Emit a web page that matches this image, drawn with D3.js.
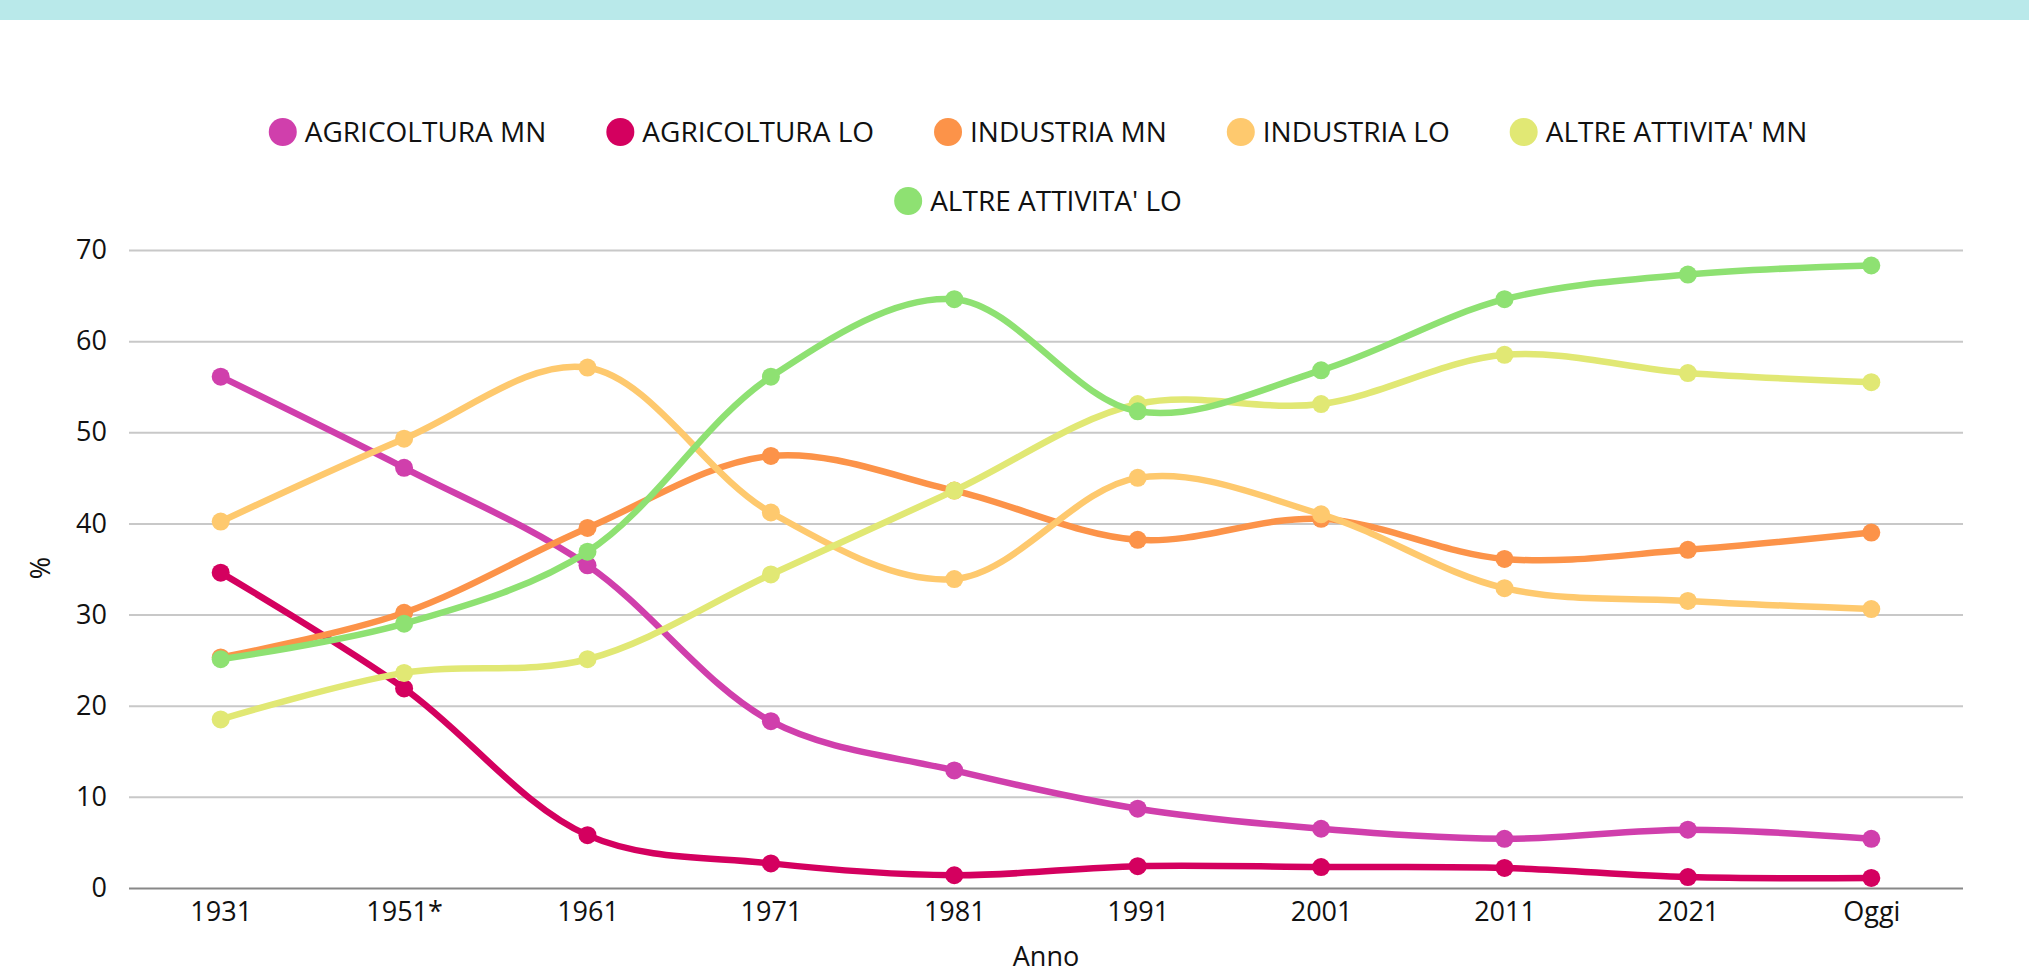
<!DOCTYPE html>
<html>
<head>
<meta charset="utf-8">
<title>Occupazione per settore</title>
<script src="https://d3js.org/d3.v7.min.js"></script>
<style>
  body { margin: 0; background: #fff; font-family: 'Open Sans', sans-serif; }
  .band { height: 20px; background: #b9e9ea; }
  svg { display: block; position: absolute; top: 0; left: 0; }
</style>
</head>
<body>
<div class="band"></div>
<div id="chart"></div>
<script>
// categories and series (% of workers)
var anni = ["1931", "1951*", "1961", "1971", "1981", "1991", "2001", "2011", "2021", "Oggi"];
var agricolturaMN = [56.1, 46.1, 35.4, 18.3, 12.9, 8.7, 6.5, 5.4, 6.4, 5.4];
var agricolturaLO = [34.6, 21.9, 5.8, 2.7, 1.4, 2.4, 2.3, 2.2, 1.2, 1.1];
var industriaMN = [25.3, 30.2, 39.5, 47.4, 43.6, 38.2, 40.5, 36.1, 37.1, 39.0];
var industriaLO = [40.2, 49.3, 57.1, 41.2, 33.9, 45.0, 41.0, 32.9, 31.5, 30.6];
var altreMN = [18.5, 23.6, 25.1, 34.4, 43.6, 53.1, 53.1, 58.5, 56.5, 55.5];
var altreLO = [25.1, 29.0, 36.9, 56.1, 64.6, 52.3, 56.8, 64.6, 67.3, 68.3];
var yTicks = [0, 10, 20, 30, 40, 50, 60, 70];

var series = [
  { name: "AGRICOLTURA MN", values: agricolturaMN, color: "#d03fac" },
  { name: "AGRICOLTURA LO", values: agricolturaLO, color: "#d4005f" },
  { name: "INDUSTRIA MN", values: industriaMN, color: "#fc9349" },
  { name: "INDUSTRIA LO", values: industriaLO, color: "#fec96e" },
  { name: "ALTRE ATTIVITA' MN", values: altreMN, color: "#e1e874" },
  { name: "ALTRE ATTIVITA' LO", values: altreLO, color: "#8ee172" }
];

var W = 2029, H = 976;
var margin = { top: 250, right: 66, bottom: 88, left: 129 };
var width = W - margin.left - margin.right,
    height = H - margin.top - margin.bottom;

var svg = d3.select("#chart").append("svg")
  .attr("width", W)
  .attr("height", H)
  .style("font-family", "'Open Sans', sans-serif");

var g = svg.append("g")
  .attr("transform", "translate(" + margin.left + "," + margin.top + ")");

var x = d3.scalePoint().domain(anni).range([0, width]).padding(0.5);
var y = d3.scaleLinear().domain([0, 70]).range([height, 0]);

// grid
var yAxis = g.append("g")
  .call(d3.axisLeft(y).tickValues(yTicks).tickSize(-width).tickPadding(22));
yAxis.select(".domain").remove();
yAxis.selectAll(".tick line")
  .attr("stroke", function (d) { return d === 0 ? "#888" : "#c8c8c8"; })
  .attr("stroke-width", 2);
yAxis.selectAll(".tick text")
  .attr("font-size", 27).attr("fill", "#111").attr("font-family", "'Open Sans', sans-serif");

var xAxis = g.append("g")
  .attr("transform", "translate(0," + height + ")")
  .call(d3.axisBottom(x).tickSize(0).tickPadding(14));
xAxis.select(".domain").remove();
xAxis.selectAll(".tick text")
  .attr("font-size", 27).attr("fill", "#111").attr("font-family", "'Open Sans', sans-serif");

// axis titles
svg.append("text")
  .attr("x", margin.left + width / 2).attr("y", 966)
  .attr("text-anchor", "middle").attr("font-size", 27).attr("fill", "#111")
  .text("Anno");
svg.append("text")
  .attr("transform", "translate(50,568) rotate(-90)")
  .attr("text-anchor", "middle").attr("font-size", 27).attr("fill", "#111")
  .text("%");

// lines
var line = d3.line()
  .x(function (d, i) { return x(anni[i]); })
  .y(function (d) { return y(d); })
  .curve(d3.curveCatmullRom.alpha(0.5));

series.forEach(function (s) {
  var sg = g.append("g");
  sg.append("path")
    .attr("d", line(s.values))
    .attr("fill", "none")
    .attr("stroke", s.color)
    .attr("stroke-width", 6.5);
  sg.selectAll("circle")
    .data(s.values)
    .enter().append("circle")
    .attr("cx", function (d, i) { return x(anni[i]); })
    .attr("cy", function (d) { return y(d); })
    .attr("r", 9)
    .attr("fill", s.color);
});

// legend
var rows = [series.slice(0, 5), series.slice(5)];
var rowY = [132, 201], r = 14, gapText = 8, gapItem = 60, legendCenter = 1038;
rows.forEach(function (row, ri) {
  var lg = svg.append("g");
  var items = lg.selectAll("g").data(row).enter().append("g");
  items.append("circle").attr("r", r).attr("fill", function (d) { return d.color; });
  items.append("text")
    .attr("x", r + gapText).attr("dy", "0.35em")
    .attr("font-size", 28).attr("fill", "#111")
    .text(function (d) { return d.name; });
  var pos = 0, widths = [];
  items.each(function () {
    var w = d3.select(this).select("text").node().getComputedTextLength() + 2 * r + gapText;
    widths.push(w);
  });
  var total = d3.sum(widths) + gapItem * (widths.length - 1);
  var start = legendCenter - total / 2;
  items.attr("transform", function (d, i) {
    var tx = start + pos + r;
    pos += widths[i] + gapItem;
    return "translate(" + tx + "," + rowY[ri] + ")";
  });
});
</script>
</body>
</html>
